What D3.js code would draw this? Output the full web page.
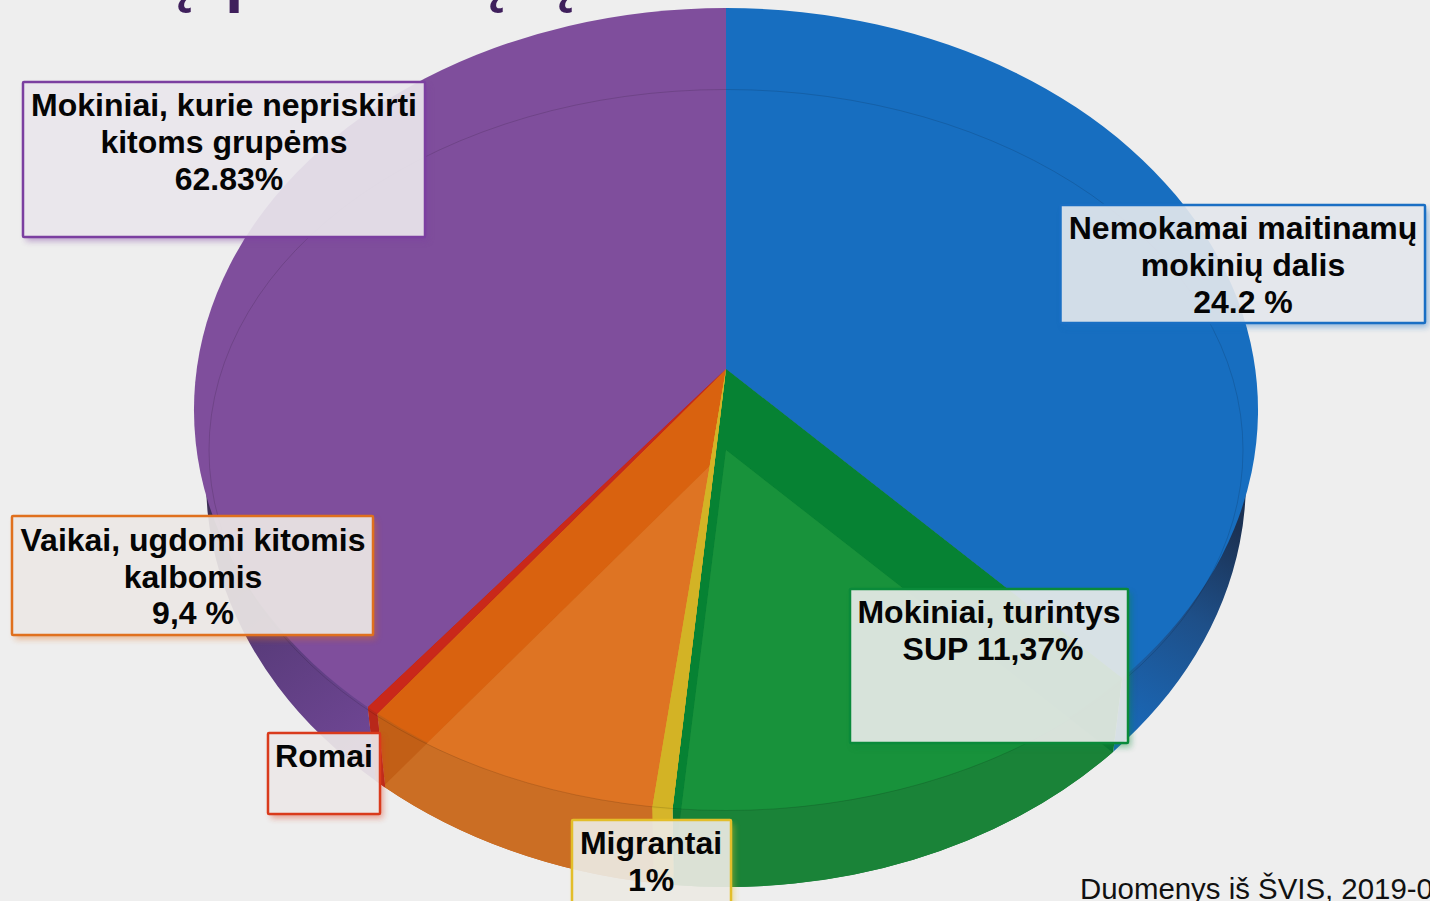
<!DOCTYPE html>
<html><head><meta charset="utf-8">
<script src="https://cdnjs.cloudflare.com/ajax/libs/d3/7.8.5/d3.min.js"></script>
<style>html,body{margin:0;padding:0;background:#eeeeee;overflow:hidden}svg{display:block}
text{font-family:"Liberation Sans",Arial,sans-serif}</style></head><body>
<svg id="c" width="1430" height="901"></svg>
<script>
// Data (share of the drawn pie, clockwise from 12 o'clock)
const categories = ["Nemokamai maitinamų mokinių dalis","Mokiniai, turintys SUP","Migrantai","Vaikai, ugdomi kitomis kalbomis","Romai","Mokiniai, kurie nepriskirti kitoms grupėms"];
const drawnShares = [37.8,13.65,0.55,8.35,0.35,39.3];
const topColors   = ["#176EC0","#068233","#D3B325","#D9620F","#C9281A","#7F4E9C"];
const sideColors  = ["url(#sideBlue)","#0C7530","#D6B52A","#C25F16","#B8281A","url(#sidePurple)"];
const lightTop    = [null,"#18923B",null,"#DE7423",null,null];
const lightSide   = [null,"#1A8338",null,"#CB6E24",null,null];
const boxLines = [
 ["Nemokamai maitinamų","mokinių dalis","24.2 %"],
 ["Mokiniai, turintys","SUP 11,37%"],
 ["Migrantai","1%"],
 ["Vaikai, ugdomi kitomis","kalbomis","9,4 %"],
 ["Romai"],
 ["Mokiniai, kurie nepriskirti","kitoms grupėms","62.83%"]
];
const boxStroke = ["#1A6FC4","#0A8A3A","#E3BE2A","#E0701E","#D93A1C","#7B3FA0"];
const boxFill   = ["#E3E6EC","#E8EAE8","#ECE9E3","#ECE7E5","#ECE7E7","#E9E6EB"];
const boxRects = [[1060.5,205,364.5,118],[850,589,278,154],[572,820,159,90],[12,516,361,119],[268,733,112,81],[23,82,402,155]];
const lineCenters = [[1243,1243,1243],[989,993],[651,651],[193,193,193],[324],[224,224,229]];
const firstBaselines = [239,623,854,551,767,116];
const lineSteps = [37,37,37,36.5,37,37];
const titleFragments = [["ų",155],["p",225],["ų",467],["ų",536]];
const footnote = "Duomenys iš ŠVIS, 2019-0";

const svg = d3.select("#c");
const defs = svg.append("defs");
function grad(id,x1,y1,x2,y2,stops){
  const g=defs.append("linearGradient").attr("id",id).attr("gradientUnits","userSpaceOnUse")
    .attr("x1",x1).attr("y1",y1).attr("x2",x2).attr("y2",y2);
  stops.forEach(s=>g.append("stop").attr("offset",s[0]).attr("stop-color",s[1]));
}
grad("sideBlue",1240,530,1115,745,[[0,"#1B3153"],[.4,"#1E4F88"],[.8,"#1B62AC"],[1,"#176BBD"]]);
grad("sidePurple",215,520,385,745,[[0,"#3E2F58"],[.45,"#5A3C7C"],[1,"#714796"]]);
defs.append("filter").attr("id","blur").attr("x","-20%").attr("y","-20%").attr("width","140%").attr("height","140%")
  .append("feGaussianBlur").attr("stdDeviation",3);

svg.append("rect").attr("width",1430).attr("height",901).attr("fill","#eeeeee");

// geometry
const A=[726,369], B=[726,450];
const U={cx:726,cy:410,rx:532,ry:402}, L={cx:726,cy:480,rx:520,ry:407}, E1={cx:726,cy:450,rx:517,ry:360.5};
const hc=-0.102, ha=360.2, he=529.2;
function rim(t){const u=Math.sin(t),v=-Math.cos(t),w=1+hc*v;return [A[0]+he*u/w,(ha*v+A[1])/w];}
function phi(p,E){return Math.atan2((p[0]-E.cx)/E.rx,-(p[1]-E.cy)/E.ry);}
function onE(E,f){return [E.cx+E.rx*Math.sin(f),E.cy-E.ry*Math.cos(f)];}
function norm(f){while(f<0)f+=2*Math.PI;return f;}
function arc(E,p0,p1){
  const d=norm(phi(p1,E)-phi(p0,E));
  return `A${E.rx},${E.ry} 0 ${d>Math.PI?1:0} 1 ${p1[0]},${p1[1]}`;
}
function hit(P,d,E){
  const px=(P[0]-E.cx)/E.rx,py=(P[1]-E.cy)/E.ry,dx=d[0]/E.rx,dy=d[1]/E.ry;
  const a=dx*dx+dy*dy,b=2*(px*dx+py*dy),c=px*px+py*py-1;
  const s=(-b+Math.sqrt(b*b-4*a*c))/(2*a);return [P[0]+s*d[0],P[1]+s*d[1]];
}
const persp=t=>Math.PI+(t-Math.PI)*0.95;
const inner=t=>{const f=persp(t);return [E1.cx+E1.rx*Math.sin(f),E1.cy-E1.ry*Math.cos(f)];};
// apex of a lit facet: the inner centre, or where its trailing edge meets the slice's leading edge
function litApex(d){
  const p1=inner(d.endAngle),r0=rim(d.startAngle);
  const dx=p1[0]-B[0],dy=p1[1]-B[1],ex=r0[0]-A[0],ey=r0[1]-A[1];
  const den=dx*ey-dy*ex;
  const s=((A[0]-B[0])*ey-(A[1]-B[1])*ex)/den;
  return s>0.001?[B[0]+s*dx,B[1]+s*dy]:B;
}

const pie=d3.pie().sort(null).value(d=>d)(drawnShares).map((d,i)=>({...d,i}));

function sidePath(d){
  const r0=rim(d.startAngle),r1=rim(d.endAngle);
  const l0=onE(L,phi(r0,U)),l1=onE(L,phi(r1,U));
  return `M${A}L${r0}L${l0}${arc(L,l0,l1)}L${r1}Z`;
}
function topPath(d){
  const r0=rim(d.startAngle),r1=rim(d.endAngle);
  return `M${A}L${r0}${arc(U,r0,r1)}Z`;
}
function lightTopPath(d){
  const p0=inner(d.startAngle),p1=inner(d.endAngle);
  return `M${litApex(d)}L${p0}${arc(E1,p0,p1)}Z`;
}
function lightSidePath(d){
  const p0=inner(d.startAngle),p1=inner(d.endAngle);
  const h0=hit(B,[p0[0]-B[0],p0[1]-B[1]],L),h1=hit(B,[p1[0]-B[0],p1[1]-B[1]],L);
  return `M${litApex(d)}L${h0}${arc(L,h0,h1)}Z`;
}
const layer=(cls,data,path,fill)=>svg.append("g").attr("class",cls).selectAll("path").data(data).join("path")
  .attr("d",path).attr("fill",fill);

layer("side",pie,sidePath,d=>sideColors[d.i]);
layer("top",pie,topPath,d=>topColors[d.i]);
const lit=pie.filter(d=>lightTop[d.i]);
layer("litSide",lit,lightSidePath,d=>lightSide[d.i]);
layer("litTop",lit,lightTopPath,d=>lightTop[d.i]);
const thin=pie.filter(d=>d.value<1);
layer("thinSide",thin,sidePath,d=>sideColors[d.i]);
layer("thinTop",thin,topPath,d=>topColors[d.i]);
svg.append("ellipse").attr("cx",E1.cx).attr("cy",E1.cy).attr("rx",E1.rx).attr("ry",E1.ry)
  .attr("fill","none").attr("stroke","rgba(0,0,0,0.13)").attr("stroke-width",1);

// cut-off title descenders
svg.append("g").selectAll("text").data(titleFragments).join("text")
  .attr("x",d=>d[1]).attr("y",-1).attr("font-size",66).attr("font-weight","bold").attr("fill","#3F1F5C").text(d=>d[0]);

// label boxes
boxRects.forEach((r,i)=>{
  const g=svg.append("g").attr("class","box");
  const id="cut"+i;
  defs.append("clipPath").attr("id",id).append("path").attr("clip-rule","evenodd")
    .attr("d",`M0,0H1430V901H0ZM${r[0]},${r[1]}h${r[2]}v${r[3]}h${-r[2]}Z`);
  g.append("g").attr("clip-path",`url(#${id})`).append("rect")
    .attr("x",r[0]+3).attr("y",r[1]+4).attr("width",r[2]).attr("height",r[3])
    .attr("fill",boxStroke[i]).attr("opacity",.45).attr("filter","url(#blur)");
  g.append("rect").attr("x",r[0]).attr("y",r[1]).attr("width",r[2]).attr("height",r[3]).attr("rx",1)
    .attr("fill",boxFill[i]).attr("fill-opacity",.92).attr("stroke",boxStroke[i]).attr("stroke-width",2.5);
  g.selectAll("text").data(boxLines[i]).join("text")
    .attr("x",(d,j)=>lineCenters[i][j]).attr("y",(d,j)=>firstBaselines[i]+j*lineSteps[i])
    .attr("text-anchor","middle").attr("font-size",32).attr("font-weight","bold").attr("fill","#050505").text(d=>d);
});
svg.append("text").attr("x",1080).attr("y",899).attr("font-size",29.4).attr("fill","#111").text(footnote);
</script></body></html>
